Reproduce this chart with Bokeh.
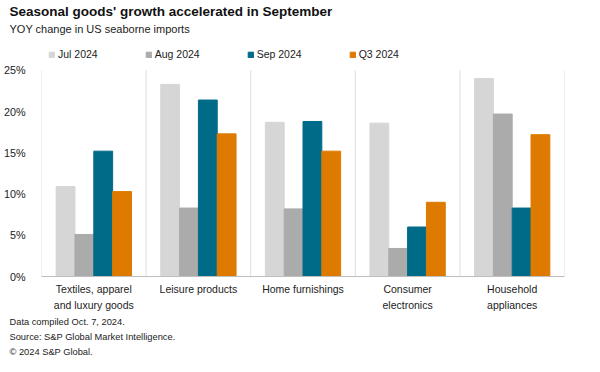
from bokeh.plotting import figure
from bokeh.models import (ColumnDataSource, FactorRange, Range1d, Title,
                          Legend, LegendItem, PrintfTickFormatter, FixedTicker)
from bokeh.transform import dodge
from bokeh.embed import file_html
from bokeh.resources import INLINE

categories = ["Textiles, apparel\nand luxury goods", "Leisure products",
              "Home furnishings", "Consumer\nelectronics", "Household\nappliances"]
series_names = ["Jul 2024", "Aug 2024", "Sep 2024", "Q3 2024"]
jul = [10.9, 23.3, 18.7, 18.6, 24.0]
aug = [5.1, 8.3, 8.2, 3.4, 19.7]
sep = [15.2, 21.4, 18.8, 6.0, 8.3]
q3 = [10.3, 17.3, 15.2, 9.0, 17.2]
y_ticks = [0, 5, 10, 15, 20, 25]

title = "Seasonal goods' growth accelerated in September"
subtitle = "YOY change in US seaborne imports"
footer = ["Data compiled Oct. 7, 2024.",
          "Source: S&P Global Market Intelligence.",
          "\u00a9 2024 S&P Global."]

colors = ["#d6d6d6", "#ababab", "#006b88", "#de7a00"]
FONT = "Liberation Sans"

# layout (pixels): expected frame top/bottom, where the 25% line sits, legend bottom
FRAME_TOP, FRAME_BOTTOM, TOP_LINE, LEGEND_BOTTOM = 27, 269, 62, 53
y_max = y_ticks[-1] * (FRAME_BOTTOM - FRAME_TOP) / (FRAME_BOTTOM - TOP_LINE)

src = ColumnDataSource(dict(cat=categories, jul=jul, aug=aug, sep=sep, q3=q3))

p = figure(x_range=FactorRange(factors=categories, range_padding=0),
           y_range=Range1d(0, y_max), width=584, height=356, title=None,
           output_backend="svg", toolbar_location=None,
           min_border_left=32, min_border_right=20,
           min_border_top=0, min_border_bottom=0)
p.outline_line_color = None
p.xgrid.grid_line_color = None
p.ygrid.grid_line_color = None
p.background_fill_color = "white"
p.border_fill_color = "white"

edges = list(range(len(categories) + 1))
p.segment(x0=edges, x1=edges, y0=[0] * len(edges), y1=[y_ticks[-1]] * len(edges),
          line_color="#dedede", line_width=1)

cols = ["jul", "aug", "sep", "q3"]
offsets = [-0.27, -0.09, 0.09, 0.27]
items = []
for col, off, c, name in zip(cols, offsets, colors, series_names):
    r = p.vbar(x=dodge("cat", off, range=p.x_range), top=col, width=0.18,
               source=src, fill_color=c, line_color=c)
    items.append(LegendItem(label=name, renderers=[r]))

legend = Legend(items=items, location=(7, FRAME_BOTTOM - LEGEND_BOTTOM),
                orientation="horizontal",
                glyph_width=7, glyph_height=7, label_standoff=3, spacing=47,
                padding=0, margin=0, label_height=12,
                label_text_font=FONT, label_text_font_size="10.5px",
                label_text_color="#222222", border_line_color=None,
                background_fill_alpha=0)
p.add_layout(legend, "center")
p.add_layout(Title(text=subtitle, text_font=FONT, text_font_size="11px",
                   text_font_style="normal", text_color="#222222",
                   standoff=2, offset=-32, align="left"), "above")
p.add_layout(Title(text=title, text_font=FONT, text_font_size="13.5px",
                   text_font_style="bold", text_color="#111111",
                   standoff=2, offset=-32, align="left"), "above")

# y axis
p.yaxis.ticker = FixedTicker(ticks=y_ticks)
p.yaxis.formatter = PrintfTickFormatter(format="%d%%")
p.yaxis.axis_line_color = None
p.yaxis.major_tick_line_color = None
p.yaxis.minor_tick_line_color = None
p.yaxis.major_label_standoff = 10
p.yaxis.major_label_text_font = FONT
p.yaxis.major_label_text_font_size = "10.8px"
p.yaxis.major_label_text_color = "#222222"

# x axis
p.xaxis.axis_line_color = "#bdbdbd"
p.xaxis.major_tick_line_color = None
p.xaxis.minor_tick_line_color = None
p.xaxis.major_label_standoff = 0
p.xaxis.major_label_text_font = FONT
p.xaxis.major_label_text_font_size = "10.5px"
p.xaxis.major_label_text_color = "#222222"
p.xaxis.major_label_text_line_height = 1.4

p.add_layout(Title(text="\n".join(footer), text_font=FONT, text_font_size="9.3px",
                   text_font_style="normal", text_color="#222222",
                   text_line_height=1.5, standoff=0, offset=-32, align="left"), "below")

open("out.html", "w").write(file_html(p, INLINE))
